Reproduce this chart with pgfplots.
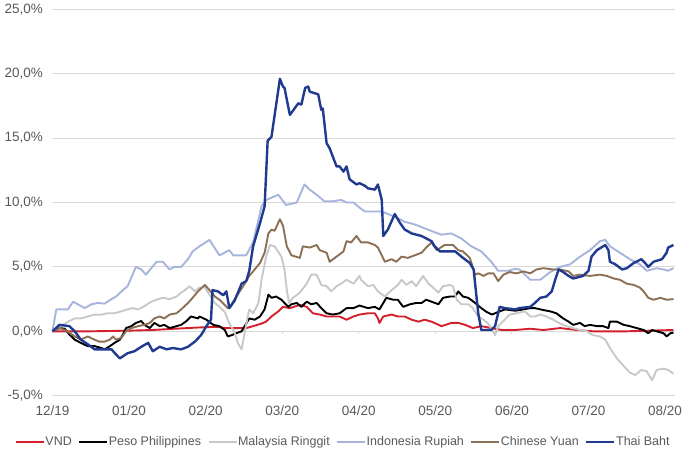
\documentclass[border=0pt]{standalone}
\usepackage{pgfplots}
\pgfplotsset{compat=1.18}
\usepackage{fontspec}
\setmainfont{Liberation Sans}
\definecolor{cvnd}{HTML}{D4202C}
\definecolor{cpeso}{HTML}{000000}
\definecolor{cmyr}{HTML}{C8C8C8}
\definecolor{cidr}{HTML}{A7B4DC}
\definecolor{ccny}{HTML}{8C7056}
\definecolor{cthb}{HTML}{1F3A8F}
\definecolor{tickgray}{HTML}{595959}
\definecolor{gridgray}{HTML}{D9D9D9}
\begin{document}
\begin{tikzpicture}
\path[use as bounding box] (-52.5pt,-54.3pt) rectangle (647.5pt,395.7pt);
\begin{axis}[
  scale only axis, width=622.5pt, height=386.4pt,
  xmin=0, xmax=8.13, ymin=-5, ymax=25,
  axis line style={draw=none},
  major tick length=0pt,
  ymajorgrids, grid style={gridgray, line width=1pt},
  xtick={0,1,2,3,4,5,6,7,8},
  xticklabels={12/19,01/20,02/20,03/20,04/20,05/20,06/20,07/20,08/20},
  ytick={-5,0,5,10,15,20,25},
  yticklabels={{-5,0\%},{0,0\%},{5,0\%},{10,0\%},{15,0\%},{20,0\%},{25,0\%}},
  tick label style={font=\fontsize{13.5}{16}\selectfont, text=tickgray},
  yticklabel style={anchor=east, xshift=-6pt},
  xticklabel style={anchor=north, yshift=-6pt},
  /pgf/number format/assume math mode=true,
  legend columns=6,
  legend style={draw=none, fill=none, at={(0.466,-0.1193)}, anchor=center,
    font=\fontsize{12.5}{15}\selectfont, text=tickgray,
    nodes={inner xsep=0.5pt, inner ysep=0pt},
    /tikz/every even column/.style={column sep=6pt}, inner sep=0pt},
  legend image code/.code={\draw[#1] (0pt,0pt) -- (28pt,0pt);},
  every axis plot/.append style={line width=1.9pt, line join=round},
  clip=false,
]
\pgfplotsinvokeforeach{1,...,8}{\draw[gridgray, line width=1pt] (axis cs:#1,0) -- ([yshift=-3pt]axis cs:#1,0);}
\addplot[cvnd] coordinates {(0,0) (0.5,0) (1.0,0.05) (1.3,0.1) (1.6,0.2) (1.92,0.3) (2.14,0.35) (2.27,0.25) (2.53,0.25) (2.62,0.4) (2.73,0.6) (2.79,0.75) (2.86,1.15) (2.95,1.55) (3.01,1.9) (3.1,1.8) (3.23,2.05) (3.32,1.9) (3.40,1.4) (3.49,1.3) (3.58,1.15) (3.75,1.15) (3.84,0.9) (3.93,1.15) (4.01,1.3) (4.12,1.4) (4.21,1.4) (4.25,1.0) (4.27,0.65) (4.32,1.15) (4.43,1.3) (4.51,1.15) (4.60,1.15) (4.69,0.9) (4.78,0.75) (4.86,0.9) (4.95,0.75) (5.08,0.4) (5.21,0.65) (5.30,0.65) (5.39,0.5) (5.49,0.25) (5.60,0.4) (5.73,0.25) (5.87,0.1) (6.04,0.1) (6.24,0.2) (6.41,0.1) (6.63,0.25) (6.85,0.1) (7.06,0.0) (7.5,0.0) (7.8,0.05) (8.11,0.1)};
\addlegendentry{VND}
\addplot[cpeso] coordinates {(0,0) (0.09,0.25) (0.16,0.2) (0.22,-0.25) (0.29,-0.65) (0.37,-0.9) (0.46,-1.15) (0.55,-1.15) (0.64,-1.3) (0.68,-1.4) (0.75,-1.15) (0.81,-0.9) (0.88,-0.65) (0.92,-0.25) (0.96,0.25) (1.03,0.4) (1.09,0.65) (1.16,0.8) (1.2,0.5) (1.27,0.25) (1.33,0.65) (1.4,0.4) (1.46,0.5) (1.53,0.25) (1.62,0.4) (1.68,0.5) (1.75,0.8) (1.81,1.15) (1.9,1.0) (1.92,1.15) (2.01,0.9) (2.1,0.5) (2.18,0.4) (2.25,0.1) (2.29,-0.4) (2.34,-0.3) (2.40,-0.15) (2.47,0) (2.57,1.0) (2.64,0.9) (2.71,1.15) (2.77,1.7) (2.82,2.85) (2.86,2.6) (2.92,2.7) (2.99,2.45) (3.03,2.2) (3.08,1.9) (3.12,2.1) (3.19,2.2) (3.25,1.9) (3.32,2.3) (3.38,2.1) (3.45,2.2) (3.51,1.8) (3.58,1.4) (3.66,1.3) (3.75,1.4) (3.84,1.8) (3.93,1.8) (4.01,2.0) (4.12,1.8) (4.21,1.9) (4.27,1.7) (4.32,2.2) (4.36,2.6) (4.45,2.45) (4.51,2.45) (4.58,1.9) (4.67,2.1) (4.75,2.2) (4.82,2.2) (4.88,2.45) (4.95,2.3) (5.04,2.1) (5.1,2.6) (5.19,2.7) (5.26,2.7) (5.3,3.1) (5.36,2.7) (5.43,2.6) (5.52,2.2) (5.6,1.8) (5.67,1.5) (5.74,1.3) (5.82,1.5) (5.91,1.7) (6.04,1.6) (6.1,1.65) (6.24,1.8) (6.3,1.8) (6.41,1.65) (6.5,1.55) (6.58,1.4) (6.67,1.0) (6.74,0.75) (6.8,0.5) (6.89,0.65) (6.95,0.4) (7.02,0.5) (7.11,0.4) (7.19,0.4) (7.26,0.25) (7.28,0.75) (7.37,0.75) (7.46,0.5) (7.54,0.4) (7.63,0.25) (7.72,0.1) (7.78,-0.15) (7.83,0.1) (7.89,0) (7.98,-0.15) (8.02,-0.4) (8.07,-0.15) (8.11,-0.1)};
\addlegendentry{Peso Philippines}
\addplot[cmyr] coordinates {(0,0) (0.11,0.4) (0.22,0.8) (0.29,1.0) (0.37,1.0) (0.46,1.15) (0.55,1.3) (0.64,1.3) (0.72,1.4) (0.81,1.4) (0.9,1.55) (0.98,1.7) (1.05,1.8) (1.12,1.7) (1.2,1.95) (1.29,2.3) (1.38,2.5) (1.44,2.6) (1.53,2.5) (1.62,2.7) (1.68,3.0) (1.73,3.2) (1.79,3.5) (1.86,3.1) (1.92,3.4) (1.99,3.4) (2.05,2.85) (2.12,2.2) (2.18,1.9) (2.25,1.5) (2.31,0.6) (2.38,-0.1) (2.42,-0.9) (2.47,-1.4) (2.51,-0.1) (2.55,1.15) (2.57,1.7) (2.62,1.4) (2.69,2.2) (2.73,4.0) (2.79,5.8) (2.84,6.7) (2.90,6.6) (2.99,5.8) (3.03,4.8) (3.06,3.2) (3.09,2.2) (3.14,2.6) (3.23,3.0) (3.32,3.7) (3.38,4.4) (3.45,4.4) (3.51,3.6) (3.58,3.5) (3.64,3.1) (3.71,3.5) (3.77,3.7) (3.84,4.0) (3.93,3.7) (4.01,4.3) (4.03,4.0) (4.12,3.5) (4.19,3.6) (4.25,3.1) (4.34,2.7) (4.43,3.2) (4.51,3.6) (4.56,4.0) (4.62,3.6) (4.69,3.9) (4.75,3.5) (4.84,4.3) (4.91,3.7) (4.97,3.4) (5.04,3.0) (5.1,3.5) (5.19,3.6) (5.23,3.5) (5.28,2.45) (5.34,2.1) (5.43,2.1) (5.49,1.8) (5.56,1.15) (5.63,0.9) (5.69,0.6) (5.78,-0.3) (5.82,0.4) (5.89,0.8) (5.97,1.3) (6.06,1.4) (6.17,1.55) (6.24,1.15) (6.3,1.15) (6.37,1.3) (6.45,1.15) (6.54,0.9) (6.63,0.6) (6.71,0.4) (6.8,0.25) (6.89,0.1) (6.98,0) (7.06,-0.3) (7.15,-0.4) (7.22,-0.65) (7.28,-1.3) (7.37,-2.1) (7.46,-2.7) (7.54,-3.2) (7.61,-3.4) (7.69,-3.0) (7.76,-3.1) (7.83,-3.8) (7.89,-3.0) (7.98,-2.9) (8.04,-3.0) (8.11,-3.3)};
\addlegendentry{Malaysia Ringgit}
\addplot[cidr] coordinates {(0,0) (0.05,1.7) (0.2,1.7) (0.27,2.3) (0.33,2.1) (0.42,1.8) (0.51,2.1) (0.59,2.2) (0.68,2.15) (0.77,2.5) (0.83,2.7) (0.92,3.2) (0.98,3.5) (1.09,5.0) (1.16,4.8) (1.22,4.4) (1.29,4.9) (1.36,5.4) (1.44,5.4) (1.53,4.8) (1.59,5.0) (1.68,5.0) (1.77,5.6) (1.83,6.2) (1.92,6.6) (2.05,7.1) (2.18,5.9) (2.31,6.3) (2.36,5.9) (2.53,5.9) (2.62,6.9) (2.73,9.7) (2.79,10.2) (2.95,10.6) (3.05,9.8) (3.19,10.0) (3.29,11.4) (3.36,11.0) (3.45,10.6) (3.55,10.1) (3.66,10.1) (3.77,10.2) (3.84,10.0) (3.93,10.0) (4.01,9.6) (4.08,9.3) (4.3,9.3) (4.47,8.9) (4.6,8.5) (4.73,8.3) (4.9,7.9) (5.08,7.5) (5.21,7.6) (5.34,7.2) (5.47,6.6) (5.6,6.2) (5.73,5.4) (5.82,4.7) (5.95,4.7) (6.04,4.85) (6.1,4.8) (6.24,4.0) (6.37,4.0) (6.5,4.6) (6.63,5.0) (6.76,5.2) (6.89,5.8) (7.02,6.3) (7.15,7.0) (7.22,7.1) (7.28,6.6) (7.41,6.1) (7.54,5.6) (7.67,5.2) (7.76,4.7) (7.89,4.9) (7.98,4.8) (8.04,4.7) (8.11,4.9)};
\addlegendentry{Indonesia Rupiah}
\addplot[ccny] coordinates {(0,0) (0.09,0.25) (0.16,0.1) (0.22,-0.1) (0.29,-0.4) (0.37,-0.65) (0.46,-0.4) (0.55,-0.65) (0.61,-0.8) (0.68,-0.8) (0.75,-0.65) (0.79,-0.4) (0.83,-0.65) (0.9,-0.5) (0.96,0) (1.03,0.25) (1.12,0.4) (1.2,0.5) (1.27,0.65) (1.33,1.0) (1.4,1.15) (1.46,1.0) (1.53,1.3) (1.62,1.4) (1.68,1.7) (1.77,2.2) (1.83,2.6) (1.9,3.1) (1.99,3.6) (2.05,3.2) (2.12,2.7) (2.18,2.45) (2.29,1.8) (2.34,2.1) (2.40,2.7) (2.49,3.5) (2.57,4.3) (2.64,4.8) (2.71,5.3) (2.77,6.1) (2.82,7.6) (2.86,7.9) (2.9,7.8) (2.97,8.7) (3.01,8.2) (3.06,6.6) (3.12,5.9) (3.23,5.7) (3.27,6.6) (3.36,6.5) (3.45,6.7) (3.49,6.3) (3.58,6.1) (3.62,5.4) (3.71,5.8) (3.8,6.2) (3.84,7.0) (3.9,6.9) (3.97,7.4) (4.03,6.9) (4.12,6.9) (4.21,6.7) (4.25,6.5) (4.3,5.9) (4.34,5.4) (4.43,5.6) (4.49,5.4) (4.56,5.8) (4.64,5.7) (4.73,5.9) (4.82,6.1) (4.88,6.5) (4.95,6.9) (5.02,6.3) (5.12,6.7) (5.23,6.7) (5.3,6.3) (5.36,6.2) (5.45,5.7) (5.52,4.4) (5.56,4.5) (5.63,4.3) (5.69,4.5) (5.76,4.5) (5.82,3.9) (5.89,4.4) (5.97,4.6) (6.06,4.5) (6.15,4.65) (6.24,4.5) (6.32,4.8) (6.41,4.9) (6.54,4.8) (6.63,4.8) (6.74,4.65) (6.8,4.3) (6.89,4.4) (7.02,4.3) (7.15,4.4) (7.24,4.3) (7.33,4.1) (7.41,4.0) (7.5,3.7) (7.59,3.6) (7.67,3.4) (7.72,3.1) (7.78,2.6) (7.85,2.45) (7.94,2.6) (8.02,2.45) (8.11,2.5)};
\addlegendentry{Chinese Yuan}
\addplot[cthb, line width=2.4pt] coordinates {(0,0) (0.09,0.5) (0.22,0.4) (0.29,0) (0.37,-0.65) (0.46,-1.0) (0.55,-1.4) (0.68,-1.4) (0.77,-1.4) (0.83,-1.8) (0.88,-2.1) (0.98,-1.7) (1.07,-1.55) (1.16,-1.2) (1.25,-0.9) (1.31,-1.55) (1.4,-1.2) (1.49,-1.4) (1.57,-1.3) (1.68,-1.4) (1.77,-1.2) (1.86,-0.8) (1.94,-0.3) (2.01,0.4) (2.07,0.9) (2.09,3.2) (2.16,3.1) (2.23,2.8) (2.27,3.1) (2.31,1.8) (2.38,2.4) (2.47,3.7) (2.53,3.9) (2.57,4.7) (2.62,6.6) (2.71,8.4) (2.77,9.7) (2.81,14.8) (2.86,15.1) (2.97,19.6) (3.01,19.0) (3.03,18.9) (3.1,16.8) (3.21,17.7) (3.25,17.6) (3.3,18.9) (3.34,19.0) (3.36,18.6) (3.47,18.4) (3.51,17.2) (3.53,17.3) (3.58,14.6) (3.62,14.2) (3.71,12.8) (3.75,12.8) (3.8,12.4) (3.84,12.8) (3.88,11.8) (3.97,11.4) (4.01,11.5) (4.08,11.3) (4.12,11.1) (4.21,11.0) (4.25,11.4) (4.3,10.2) (4.32,7.4) (4.38,7.9) (4.47,9.1) (4.54,8.4) (4.6,7.9) (4.69,7.6) (4.82,7.4) (4.95,7.0) (4.99,6.6) (5.06,6.2) (5.26,6.2) (5.34,5.8) (5.45,5.3) (5.5,4.8) (5.56,1.4) (5.6,0.1) (5.73,0.1) (5.78,0.4) (5.84,1.9) (5.91,1.8) (6.04,1.7) (6.1,1.8) (6.24,1.9) (6.3,2.2) (6.37,2.6) (6.45,2.7) (6.52,3.1) (6.56,3.9) (6.61,4.8) (6.67,4.6) (6.74,4.3) (6.8,4.1) (6.93,4.3) (7.0,4.7) (7.04,5.8) (7.11,6.3) (7.22,6.7) (7.26,6.3) (7.28,5.4) (7.35,5.2) (7.44,4.8) (7.5,4.9) (7.59,5.3) (7.69,5.6) (7.74,5.3) (7.78,5.0) (7.85,5.4) (7.96,5.6) (8.02,6.1) (8.04,6.5) (8.11,6.7)};
\addlegendentry{Thai Baht}
\end{axis}
\end{tikzpicture}
\end{document}
